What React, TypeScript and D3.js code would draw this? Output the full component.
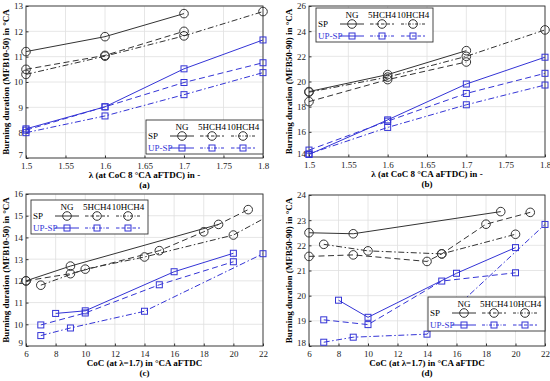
import * as d3 from 'd3';
import React, { useEffect, useRef } from 'react';

// x ticks
const lambdaTicks = [1.5, 1.55, 1.6, 1.65, 1.7, 1.75, 1.8];
const cocTicks = [6, 8, 10, 12, 14, 16, 18, 20, 22];

// (a) MFB10-50 over lambda
const aLambda = [1.5, 1.6, 1.7, 1.8];
const aSpNG = [11.2, 11.79, 12.7];
const aSp5 = [10.5, 11.05, 12.0];
const aSp10 = [10.3, 11.02, 11.82, 12.78];
const aUpNG = [8.15, 9.02, 10.52, 11.66];
const aUp5 = [8.0, 8.66, 9.5, 10.37];
const aUp10 = [8.1, 9.02, 9.98, 10.76];

// (b) MFB50-90 over lambda
const bSpNG = [19.2, 20.55, 22.45];
const bSp5 = [18.4, 20.15, 21.55];
const bSp10 = [19.15, 20.35, 22.0, 24.1];
const bUpNG = [14.2, 16.95, 19.8, 21.93];
const bUp5 = [14.25, 16.35, 18.15, 19.72];
const bUp10 = [14.55, 16.85, 19.05, 20.65];

// (c) MFB10-50 over CoC
const cSpNGx = [6, 9, 19];
const cSpNG = [12.0, 12.68, 14.6];
const cSp5x = [6, 9, 15, 18, 21];
const cSp5 = [12.0, 12.33, 13.39, 14.26, 15.28];
const cSp10x = [7, 10, 14, 20, 23];
const cSp10 = [11.8, 12.54, 13.1, 14.11, 15.22];
const cUpNGx = [8, 10, 16, 20];
const cUpNG = [10.5, 10.62, 12.42, 13.27];
const cUp5x = [7, 9, 14, 22];
const cUp5 = [9.48, 9.83, 10.6, 13.25];
const cUp10x = [7, 10, 15, 20];
const cUp10 = [9.97, 10.52, 11.82, 12.88];

// (d) MFB50-90 over CoC
const dSpNGx = [6, 9, 19];
const dSpNG = [22.5, 22.46, 23.34];
const dSp5x = [6, 9, 14, 15, 18, 21];
const dSp5 = [21.56, 21.62, 21.36, 21.66, 22.84, 23.31];
const dSp10x = [7, 10, 15, 20];
const dSp10 = [22.04, 21.78, 21.66, 22.44];
const dUpNGx = [8, 10, 16, 20];
const dUpNG = [19.82, 19.14, 20.89, 21.91];
const dUp5x = [7, 9, 14, 22];
const dUp5 = [18.15, 18.35, 18.47, 22.83];
const dUp10x = [7, 10, 15, 20];
const dUp10 = [19.04, 18.85, 20.58, 20.91];

const legendCols = ['NG', '5HCH4', '10HCH4'];

const BLACK = '#333';
const BLUE = '#3434d6';
const FONT = '"Liberation Serif", "Times New Roman", serif';

type Style = 'solid' | 'dash' | 'dashdot';
type Series = { x: number[]; y: number[]; up: boolean; style: Style };

const dashOf = (s: Style) => (s === 'solid' ? null : s === 'dash' ? '6,3.5' : '6,2.5,1.5,2.5');

const mk = (x: number[], y: number[], up: boolean, style: Style): Series => ({ x, y, up, style });

const panels = [
  {
    id: 'a', left: 26, right: 263, top: 6, bottom: 158,
    xDomain: [1.5, 1.8], yDomain: [7, 13], xTicks: lambdaTicks, yTicks: d3.range(7, 14, 1),
    yLabel: 'Burning duration (MFB10-50) in °CA', xLabel: 'λ (at CoC 8 °CA aFTDC) in -',
    legend: { x: 146, y: 120 },
    series: [
      mk(aLambda.slice(0, 3), aSpNG, false, 'solid'),
      mk(aLambda.slice(0, 3), aSp5, false, 'dash'),
      mk(aLambda, aSp10, false, 'dashdot'),
      mk(aLambda, aUpNG, true, 'solid'),
      mk(aLambda, aUp5, true, 'dashdot'),
      mk(aLambda, aUp10, true, 'dash'),
    ],
  },
  {
    id: 'b', left: 309, right: 545, top: 6, bottom: 157,
    xDomain: [1.5, 1.8], yDomain: [14, 26], xTicks: lambdaTicks, yTicks: d3.range(14, 27, 2),
    yLabel: 'Burning duration (MFB50-90) in °CA', xLabel: 'λ (at CoC 8 °CA aFTDC) in -',
    legend: { x: 316, y: 8 },
    series: [
      mk(aLambda.slice(0, 3), bSpNG, false, 'solid'),
      mk(aLambda.slice(0, 3), bSp5, false, 'dash'),
      mk(aLambda, bSp10, false, 'dashdot'),
      mk(aLambda, bUpNG, true, 'solid'),
      mk(aLambda, bUp5, true, 'dashdot'),
      mk(aLambda, bUp10, true, 'dash'),
    ],
  },
  {
    id: 'c', left: 26, right: 263, top: 194, bottom: 346,
    xDomain: [6, 22], yDomain: [9, 16], xTicks: cocTicks, yTicks: d3.range(9, 17, 1),
    yLabel: 'Burning duration (MFB10-50) in °CA', xLabel: 'CoC (at λ=1.7) in °CA aFTDC',
    legend: { x: 31, y: 200 },
    series: [
      mk(cSpNGx, cSpNG, false, 'solid'),
      mk(cSp5x, cSp5, false, 'dash'),
      mk(cSp10x, cSp10, false, 'dashdot'),
      mk(cUpNGx, cUpNG, true, 'solid'),
      mk(cUp5x, cUp5, true, 'dashdot'),
      mk(cUp10x, cUp10, true, 'dash'),
    ],
  },
  {
    id: 'd', left: 309, right: 545, top: 195, bottom: 346,
    xDomain: [6, 22], yDomain: [18, 24], xTicks: cocTicks, yTicks: d3.range(18, 25, 1),
    yLabel: 'Burning duration (MFB50-90) in °CA', xLabel: 'CoC (at λ=1.7) in °CA aFTDC',
    legend: { x: 428, y: 297 },
    series: [
      mk(dSpNGx, dSpNG, false, 'solid'),
      mk(dSp5x, dSp5, false, 'dash'),
      mk(dSp10x, dSp10, false, 'dashdot'),
      mk(dUpNGx, dUpNG, true, 'solid'),
      mk(dUp5x, dUp5, true, 'dashdot'),
      mk(dUp10x, dUp10, true, 'dash'),
    ],
  },
];

const drawMarker = (g: any, cx: number, cy: number, up: boolean) => {
  if (up) {
    g.append('rect').attr('x', cx - 3).attr('y', cy - 3).attr('width', 6).attr('height', 6)
      .attr('fill', 'none').attr('stroke', BLUE).attr('stroke-width', 1);
  } else {
    g.append('circle').attr('cx', cx).attr('cy', cy).attr('r', 4.3)
      .attr('fill', 'none').attr('stroke', BLACK).attr('stroke-width', 1);
  }
};

const App = () => {
  const ref = useRef<SVGSVGElement>(null);

  useEffect(() => {
    const svg = d3.select(ref.current);
    svg.selectAll('*').remove();
    const defs = svg.append('defs');

    panels.forEach(p => {
      const x = d3.scaleLinear().domain(p.xDomain).range([p.left, p.right]);
      const y = d3.scaleLinear().domain(p.yDomain).range([p.bottom, p.top]);
      const g = svg.append('g');

      defs.append('clipPath').attr('id', 'clip-' + p.id)
        .append('rect').attr('x', p.left).attr('y', p.top)
        .attr('width', p.right - p.left).attr('height', p.bottom - p.top);

      // background + grid
      g.append('rect').attr('x', p.left).attr('y', p.top)
        .attr('width', p.right - p.left).attr('height', p.bottom - p.top).attr('fill', '#fff');
      g.append('g').selectAll('line').data(p.xTicks).join('line')
        .attr('x1', d => x(d)).attr('x2', d => x(d)).attr('y1', p.top).attr('y2', p.bottom)
        .attr('stroke', '#e0e0e0').attr('stroke-width', 0.8);
      g.append('g').selectAll('line').data(p.yTicks).join('line')
        .attr('y1', d => y(d)).attr('y2', d => y(d)).attr('x1', p.left).attr('x2', p.right)
        .attr('stroke', '#e0e0e0').attr('stroke-width', 0.8);

      // axes (inward ticks, MATLAB-like)
      const xb = g.append('g').attr('transform', `translate(0,${p.bottom})`)
        .call(d3.axisBottom(x).tickValues(p.xTicks).tickSize(-2.5).tickPadding(5).tickFormat(d => String(d)));
      const yl = g.append('g').attr('transform', `translate(${p.left},0)`)
        .call(d3.axisLeft(y).tickValues(p.yTicks).tickSize(-2.5).tickPadding(3).tickFormat(d => String(d)));
      [xb, yl].forEach(a => {
        a.select('.domain').remove();
        a.selectAll('line').attr('stroke', BLACK);
        a.selectAll('text').attr('font-family', FONT).attr('font-size', 9).attr('fill', '#222');
      });
      // lift the lowest y label a bit so it clears the first x label
      yl.selectAll('text').filter(d => d === p.yDomain[0]).attr('dy', '-0.05em');

      g.append('rect').attr('x', p.left).attr('y', p.top)
        .attr('width', p.right - p.left).attr('height', p.bottom - p.top)
        .attr('fill', 'none').attr('stroke', BLACK).attr('stroke-width', 0.9);

      // series
      const line = d3.line<[number, number]>().x(d => x(d[0])).y(d => y(d[1]));
      const sg = g.append('g');
      p.series.forEach(s => {
        const pts: [number, number][] = s.x.map((v, i) => [v, s.y[i]]);
        sg.append('path').attr('d', line(pts)).attr('clip-path', `url(#clip-${p.id})`)
          .attr('fill', 'none').attr('stroke', s.up ? BLUE : BLACK).attr('stroke-width', 1)
          .attr('stroke-dasharray', dashOf(s.style));
        pts.filter(d => d[0] >= p.xDomain[0] && d[0] <= p.xDomain[1])
          .forEach(d => drawMarker(sg, x(d[0]), y(d[1]), s.up));
      });

      // labels
      const cx = (p.left + p.right) / 2;
      const cy = (p.top + p.bottom) / 2;
      g.append('text').attr('transform', `translate(${p.left - 17},${cy}) rotate(-90)`)
        .attr('text-anchor', 'middle').attr('font-family', FONT).attr('font-weight', 'bold')
        .attr('font-size', 9).attr('fill', '#000').text(p.yLabel);
      g.append('text').attr('x', cx).attr('y', p.bottom + 20).attr('text-anchor', 'middle')
        .attr('font-family', FONT).attr('font-weight', 'bold').attr('font-size', 9)
        .attr('fill', '#000').text(p.xLabel);
      g.append('text').attr('x', cx).attr('y', p.bottom + 30).attr('text-anchor', 'middle')
        .attr('font-family', FONT).attr('font-weight', 'bold').attr('font-size', 9)
        .attr('fill', '#000').text(`(${p.id})`);

      // legend
      const lx = p.legend.x, ly = p.legend.y;
      const lg = g.append('g');
      lg.append('rect').attr('x', lx).attr('y', ly).attr('width', 117).attr('height', 34)
        .attr('fill', '#fff').attr('stroke', BLACK).attr('stroke-width', 0.9);
      const colX = [36, 66, 97];
      legendCols.forEach((c, i) => {
        lg.append('text').attr('x', lx + colX[i]).attr('y', ly + 10).attr('text-anchor', 'middle')
          .attr('font-family', FONT).attr('font-size', 9).attr('fill', '#000').text(c);
      });
      const rows: { name: string; up: boolean; styles: Style[]; dy: number }[] = [
        { name: 'SP', up: false, styles: ['solid', 'dash', 'dashdot'], dy: 16 },
        { name: 'UP-SP', up: true, styles: ['solid', 'dashdot', 'dash'], dy: 28 },
      ];
      rows.forEach(r => {
        lg.append('text').attr('x', lx + 2).attr('y', ly + r.dy + 3)
          .attr('font-family', FONT).attr('font-size', 9).attr('fill', r.up ? BLUE : '#000').text(r.name);
        r.styles.forEach((st, i) => {
          const mx = lx + colX[i];
          lg.append('line').attr('x1', mx - 12).attr('x2', mx + 12).attr('y1', ly + r.dy).attr('y2', ly + r.dy)
            .attr('stroke', r.up ? BLUE : BLACK).attr('stroke-width', 1)
            .attr('stroke-dasharray', st === 'solid' ? null : st === 'dash' ? '3.5,2' : '3,1.5,1,1.5');
          drawMarker(lg, mx, ly + r.dy, r.up);
        });
      });
    });
  }, []);

  return (
    <div style={{ position: 'absolute', left: 0, top: 0 }}>
      <svg ref={ref} width={550} height={381} style={{ display: 'block', background: '#fff' }} />
    </div>
  );
};

export default App;
